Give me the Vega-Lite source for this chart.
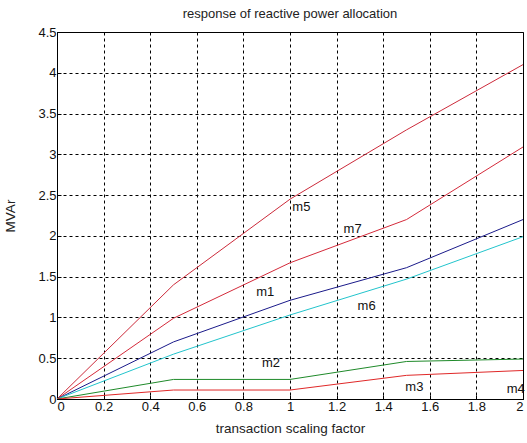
{
  "$schema": "https://vega.github.io/schema/vega-lite/v6.json",
  "width": 466,
  "height": 367,
  "autosize": {"type": "none"},
  "padding": {"left": 57, "top": 32, "right": 4, "bottom": 44},
  "background": "white",
  "title": {"text": "response of reactive power allocation", "font": "Liberation Sans", "fontSize": 13, "fontWeight": "normal", "color": "#222", "offset": 5, "anchor": "middle"},
  "config": {
    "view": {"stroke": "black", "strokeWidth": 1},
    "axis": {"labelFont": "Liberation Sans", "labelFontSize": 13, "labelColor": "#111", "titleFont": "Liberation Sans", "titleFontSize": 13.5, "titleFontWeight": "normal", "titleColor": "#222", "grid": true, "gridColor": "black", "gridDash": [3, 3], "gridOpacity": 1, "gridWidth": 1, "domainColor": "black", "tickColor": "black", "tickSize": -4}
  },
  "data": {"values": [
    {"s": "m5", "x": 0, "y": 0}, {"s": "m5", "x": 0.5, "y": 1.4}, {"s": "m5", "x": 1, "y": 2.45}, {"s": "m5", "x": 1.5, "y": 3.3}, {"s": "m5", "x": 2, "y": 4.1},
    {"s": "m7", "x": 0, "y": 0}, {"s": "m7", "x": 0.5, "y": 0.99}, {"s": "m7", "x": 1, "y": 1.67}, {"s": "m7", "x": 1.5, "y": 2.2}, {"s": "m7", "x": 2, "y": 3.09},
    {"s": "m1", "x": 0, "y": 0}, {"s": "m1", "x": 0.5, "y": 0.7}, {"s": "m1", "x": 1, "y": 1.21}, {"s": "m1", "x": 1.5, "y": 1.61}, {"s": "m1", "x": 2, "y": 2.2},
    {"s": "m6", "x": 0, "y": 0}, {"s": "m6", "x": 0.5, "y": 0.55}, {"s": "m6", "x": 1, "y": 1.03}, {"s": "m6", "x": 1.5, "y": 1.47}, {"s": "m6", "x": 2, "y": 1.99},
    {"s": "m2", "x": 0, "y": 0}, {"s": "m2", "x": 0.5, "y": 0.24}, {"s": "m2", "x": 1, "y": 0.24}, {"s": "m2", "x": 1.5, "y": 0.46}, {"s": "m2", "x": 2, "y": 0.49},
    {"s": "m3", "x": 0, "y": 0}, {"s": "m3", "x": 0.5, "y": 0.11}, {"s": "m3", "x": 1, "y": 0.11}, {"s": "m3", "x": 1.5, "y": 0.29}, {"s": "m3", "x": 2, "y": 0.35}
  ]},
  "layer": [
    {
      "mark": {"type": "line", "strokeWidth": 1, "clip": true},
      "encoding": {
        "x": {"field": "x", "type": "quantitative", "scale": {"domain": [0, 2], "nice": false}, "axis": {"values": [0, 0.2, 0.4, 0.6, 0.8, 1, 1.2, 1.4, 1.6, 1.8, 2], "format": "~g", "title": "transaction scaling factor", "titlePadding": 8, "labelPadding": 5}},
        "y": {"field": "y", "type": "quantitative", "scale": {"domain": [0, 4.5], "nice": false}, "axis": {"values": [0, 0.5, 1, 1.5, 2, 2.5, 3, 3.5, 4, 4.5], "format": "~g", "title": "MVAr", "titlePadding": 20, "labelPadding": 5}},
        "color": {"field": "s", "type": "nominal", "legend": null, "scale": {"domain": ["m5", "m7", "m1", "m6", "m2", "m3"], "range": ["#cc2a3a", "#d42a3a", "#1a1a8a", "#22c4cc", "#1f8a2a", "#e02828"]}}
      }
    },
    {
      "data": {"values": [
        {"t": "m5", "x": 1.01, "y": 2.35},
        {"t": "m7", "x": 1.23, "y": 2.09},
        {"t": "m1", "x": 0.855, "y": 1.31},
        {"t": "m6", "x": 1.29, "y": 1.14},
        {"t": "m2", "x": 0.88, "y": 0.44},
        {"t": "m3", "x": 1.495, "y": 0.15},
        {"t": "m4", "x": 1.93, "y": 0.12}
      ]},
      "mark": {"type": "text", "align": "left", "baseline": "middle", "font": "Liberation Sans", "fontSize": 13, "color": "#111"},
      "encoding": {
        "x": {"field": "x", "type": "quantitative"},
        "y": {"field": "y", "type": "quantitative"},
        "text": {"field": "t"}
      }
    }
  ]
}
